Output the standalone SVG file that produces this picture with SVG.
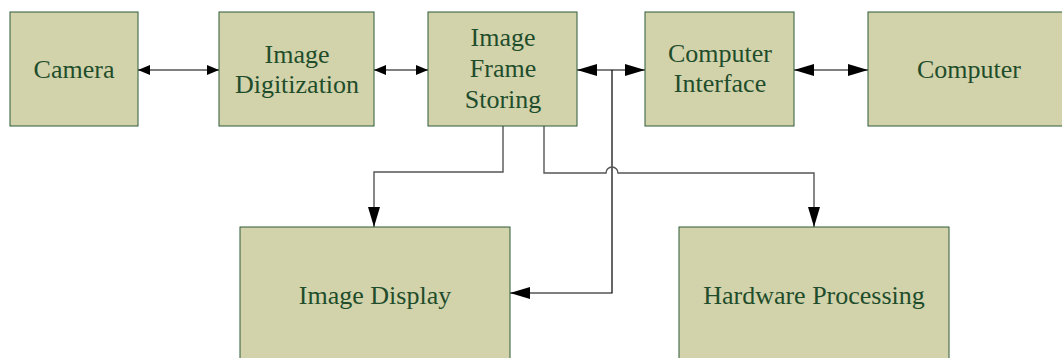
<svg xmlns="http://www.w3.org/2000/svg" width="1062" height="358" viewBox="0 0 1062 358">
  <style>
    .box { fill: #d2d3aa; stroke: #2e5a38; stroke-width: 1; }
    .lbl { font-family: "Liberation Serif", "Times New Roman", serif; font-size: 26px; fill: #1f4d2c; text-anchor: middle; }
    .bus { fill: none; stroke: #000; stroke-width: 1.2; }
    .tap { fill: none; stroke: #555; stroke-width: 1.4; }
  </style>
  <defs>
    <marker id="sm" viewBox="0 0 12 10" refX="12" refY="5" markerWidth="12" markerHeight="10" markerUnits="userSpaceOnUse" orient="auto-start-reverse">
      <path d="M0,0 L12,5 L0,10 Z" fill="#000"/>
    </marker>
    <marker id="lg" viewBox="0 0 20 12" refX="20" refY="6" markerWidth="20" markerHeight="12" markerUnits="userSpaceOnUse" orient="auto-start-reverse">
      <path d="M0,0 L20,6 L0,12 Z" fill="#000"/>
    </marker>
    <marker id="dn" viewBox="0 0 12 20" refX="6" refY="20" markerWidth="12" markerHeight="20" markerUnits="userSpaceOnUse" orient="0">
      <path d="M0,0 L12,0 L6,20 Z" fill="#000"/>
    </marker>
  </defs>

  <g id="connectors">
    <line class="bus" x1="138" y1="70" x2="219" y2="70" marker-start="url(#sm)" marker-end="url(#sm)"/>
    <line class="bus" x1="374" y1="70" x2="428" y2="70" marker-start="url(#sm)" marker-end="url(#sm)"/>
    <line class="bus" x1="577" y1="70" x2="645" y2="70" marker-start="url(#lg)" marker-end="url(#lg)"/>
    <line class="bus" x1="794" y1="70" x2="868" y2="70" marker-start="url(#lg)" marker-end="url(#lg)"/>
    <!-- branch from the storing/interface link down to the display -->
    <path class="bus" d="M612,70 V293 H510" marker-end="url(#lg)"/>
    <!-- storing to display -->
    <path class="tap" d="M503,126 V172 H374 V227" marker-end="url(#dn)"/>
    <!-- storing to hardware processing, hopping over the branch -->
    <path class="tap" d="M544,126 V173 H606 A6,6 0 0 1 618,173 H814 V227" marker-end="url(#dn)"/>
  </g>

  <g id="camera">
    <rect class="box" x="10" y="12" width="128" height="114"/>
    <text class="lbl" x="74" y="78">Camera</text>
  </g>
  <g id="digitization">
    <rect class="box" x="219" y="12" width="155" height="114"/>
    <text class="lbl" x="297" y="63">Image</text>
    <text class="lbl" x="297" y="93">Digitization</text>
  </g>
  <g id="frame-storing">
    <rect class="box" x="428" y="12" width="149" height="114"/>
    <text class="lbl" x="503" y="46">Image</text>
    <text class="lbl" x="503" y="77">Frame</text>
    <text class="lbl" x="503" y="108">Storing</text>
  </g>
  <g id="computer-interface">
    <rect class="box" x="645" y="12" width="149" height="114"/>
    <text class="lbl" x="720" y="62">Computer</text>
    <text class="lbl" x="720" y="92">Interface</text>
  </g>
  <g id="computer">
    <rect class="box" x="868" y="12" width="200" height="114"/>
    <text class="lbl" x="969" y="78">Computer</text>
  </g>
  <g id="image-display">
    <rect class="box" x="240" y="227" width="270" height="140"/>
    <text class="lbl" x="375" y="304">Image Display</text>
  </g>
  <g id="hardware-processing">
    <rect class="box" x="679" y="227" width="270" height="140"/>
    <text class="lbl" x="814" y="304">Hardware Processing</text>
  </g>
</svg>
